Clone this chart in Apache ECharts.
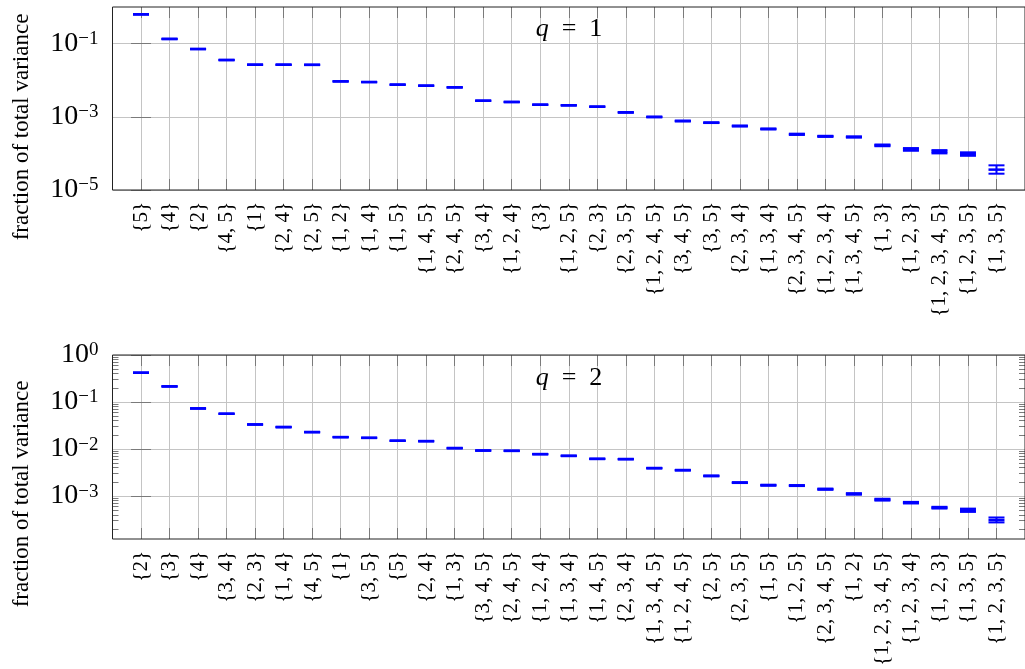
<!DOCTYPE html>
<html><head><meta charset="utf-8">
<script src="https://cdn.jsdelivr.net/npm/echarts@6/dist/echarts.min.js"></script>
<style>html,body{margin:0;padding:0;background:#fff}#c{width:1025px;height:669px}</style>
</head><body><div id="c"></div>
<script>
// ---------- q = 1 ----------
const catsQ1 = ['{5}','{4}','{2}','{4, 5}','{1}','{2, 4}','{2, 5}','{1, 2}','{1, 4}','{1, 5}','{1, 4, 5}','{2, 4, 5}','{3, 4}','{1, 2, 4}','{3}','{1, 2, 5}','{2, 3}','{2, 3, 5}','{1, 2, 4, 5}','{3, 4, 5}','{3, 5}','{2, 3, 4}','{1, 3, 4}','{2, 3, 4, 5}','{1, 2, 3, 4}','{1, 3, 4, 5}','{1, 3}','{1, 2, 3}','{1, 2, 3, 4, 5}','{1, 2, 3, 5}','{1, 3, 5}'];
const meanQ1 = [0.63,0.134,0.0711,0.0356,0.0265,0.0265,0.0263,0.0093,0.0089,0.00755,0.00708,0.00638,0.00275,0.00254,0.00214,0.00206,0.00189,0.00132,0.00099,7.67e-4,6.9e-4,5.6e-4,4.65e-4,3.33e-4,2.93e-4,2.81e-4,1.66e-4,1.29e-4,1.11e-4,9.6e-5,3.6e-5];
const loQ1 = [0.62,0.132,0.0702,0.0351,0.0261,0.0261,0.0259,0.0092,0.0088,0.00745,0.00698,0.00629,0.00271,0.00250,0.00211,0.00203,0.00186,0.00129,0.00097,7.5e-4,6.75e-4,5.45e-4,4.53e-4,3.20e-4,2.83e-4,2.71e-4,1.57e-4,1.18e-4,1.0e-4,8.6e-5,2.79e-5];
const hiQ1 = [0.64,0.136,0.0720,0.0361,0.0269,0.0269,0.0267,0.0094,0.0090,0.00765,0.00718,0.00647,0.00279,0.00258,0.00217,0.00209,0.00192,0.00135,0.00101,7.85e-4,7.05e-4,5.75e-4,4.77e-4,3.46e-4,3.03e-4,2.91e-4,1.75e-4,1.40e-4,1.23e-4,1.07e-4,4.72e-5];
const yTicksQ1 = [1e-5, 1e-3, 1e-1];

// ---------- q = 2 ----------
const catsQ2 = ['{2}','{3}','{4}','{3, 4}','{2, 3}','{1, 4}','{4, 5}','{1}','{3, 5}','{5}','{2, 4}','{1, 3}','{3, 4, 5}','{2, 4, 5}','{1, 2, 4}','{1, 3, 4}','{1, 4, 5}','{2, 3, 4}','{1, 3, 4, 5}','{1, 2, 4, 5}','{2, 5}','{2, 3, 5}','{1, 5}','{1, 2, 5}','{2, 3, 4, 5}','{1, 2}','{1, 2, 3, 4, 5}','{1, 2, 3, 4}','{1, 2, 3}','{1, 3, 5}','{1, 2, 3, 5}'];
const meanQ2 = [0.42,0.215,0.073,0.0563,0.0333,0.0293,0.0229,0.0179,0.0173,0.0150,0.0147,0.01045,0.00929,0.00916,0.00778,0.00716,0.00618,0.0061,0.00392,0.00355,0.00268,0.00193,0.0017,0.00167,0.0014,0.00111,8.38e-4,7.23e-4,5.66e-4,4.98e-4,3.09e-4];
const loQ2 = [0.415,0.212,0.072,0.0556,0.0329,0.0289,0.0226,0.0177,0.0171,0.0148,0.0145,0.0103,0.00917,0.00904,0.00768,0.00706,0.00610,0.00602,0.00386,0.00349,0.00263,0.00189,0.00166,0.00163,0.00136,0.00107,8.0e-4,6.95e-4,5.42e-4,4.6e-4,2.75e-4];
const hiQ2 = [0.425,0.218,0.074,0.0570,0.0337,0.0297,0.0232,0.0181,0.0175,0.0152,0.0149,0.0106,0.00941,0.00928,0.00788,0.00726,0.00626,0.00618,0.00398,0.00361,0.00273,0.00197,0.00174,0.00171,0.00144,0.00115,8.76e-4,7.51e-4,5.9e-4,5.4e-4,3.5e-4];
const yTicksQ2 = [1e-3, 1e-2, 1e-1, 1];
const yMinorQ2 = [2e-4,3e-4,4e-4,5e-4,6e-4,7e-4,8e-4,9e-4,2e-3,3e-3,4e-3,5e-3,6e-3,7e-3,8e-3,9e-3,2e-2,3e-2,4e-2,5e-2,6e-2,7e-2,8e-2,9e-2,0.2,0.3,0.4,0.5,0.6,0.7,0.8,0.9];

const SERIF = 'Liberation Serif';
const BLUE = '#0000ff';
const GRIDC = '#c4c4c4';
const TICKC = '#7a7a7a';

function yLabelFmt(v) {
  const e = Math.round(Math.log10(v));
  return '{b|10}{s|' + (e < 0 ? '\u2212' + (-e) : String(e)) + '}';
}
const yRich = {
  b: { fontFamily: SERIF, fontSize: 28, color: '#000' },
  s: { fontFamily: SERIF, fontSize: 19, color: '#000', verticalAlign: 'top' }
};

function xAxes(gridIndex, cats) {
  return [{
    gridIndex, type: 'value', min: -1, max: 31, interval: 1, position: 'bottom',
    axisLine: { show: false },
    axisTick: { inside: true, length: 11, lineStyle: { color: TICKC, width: 1 } },
    axisLabel: {
      rotate: 90, margin: 12, fontFamily: SERIF, fontSize: 21, color: '#000',
      formatter: v => (v >= 0 && v < cats.length) ? cats[v] : ''
    },
    splitLine: { show: true, lineStyle: { color: GRIDC, width: 1 } }
  }, {
    gridIndex, type: 'value', min: -1, max: 31, interval: 1, position: 'top',
    axisLine: { show: false },
    axisTick: { inside: true, length: 11, lineStyle: { color: TICKC, width: 1 } },
    axisLabel: { show: false }, splitLine: { show: false }
  }];
}

function yAxis(gridIndex, min, max, ticks, position, withLabels, len, split) {
  return {
    gridIndex, type: 'log', logBase: 10, min, max, position,
    axisLine: { show: false },
    axisTick: { inside: true, length: len, customValues: ticks, lineStyle: { color: TICKC, width: 1 } },
    axisLabel: withLabels ? { show: true, customValues: ticks, margin: 14, formatter: yLabelFmt, rich: yRich } : { show: false },
    splitLine: { show: split, lineStyle: { color: GRIDC, width: 1 } },
    minorTick: { show: false }, minorSplitLine: { show: false }
  };
}

function errRender(params, api) {
  const x = api.value(0);
  const c = api.coord([x, api.value(1)]);
  const lo = api.coord([x, api.value(2)]);
  const hi = api.coord([x, api.value(3)]);
  const hw = 8;
  const st = { stroke: BLUE, lineWidth: 2 };
  return { type: 'group', children: [
    { type: 'line', shape: { x1: c[0], y1: lo[1], x2: c[0], y2: hi[1] }, style: st },
    { type: 'line', shape: { x1: c[0] - hw, y1: lo[1], x2: c[0] + hw, y2: lo[1] }, style: st },
    { type: 'line', shape: { x1: c[0] - hw, y1: hi[1], x2: c[0] + hw, y2: hi[1] }, style: st },
    { type: 'line', shape: { x1: c[0] - hw, y1: c[1], x2: c[0] + hw, y2: c[1] }, style: { stroke: BLUE, lineWidth: 2.5 } }
  ]};
}

const Y2MIN = 1.22e-4;
const gridBase = { left: 112.5, right: -4, show: true, z: 10, backgroundColor: 'transparent', borderColor: '#222', borderWidth: 1 };
const qRich = { i: { fontStyle: 'italic', fontFamily: SERIF, fontSize: 26 } };

const option = {
  animation: false,
  backgroundColor: '#fff',
  grid: [
    Object.assign({ top: 7, height: 183 }, gridBase),
    Object.assign({ top: 355, height: 184 }, gridBase)
  ],
  xAxis: [].concat(xAxes(0, catsQ1), xAxes(1, catsQ2)),
  yAxis: [
    yAxis(0, 1e-5, 1, yTicksQ1, 'left', true, 10, true),
    yAxis(0, 1e-5, 1, yTicksQ1, 'right', false, 10, false),
    yAxis(1, Y2MIN, 1, yTicksQ2, 'left', true, 10, true),
    yAxis(1, Y2MIN, 1, yTicksQ2, 'right', false, 10, false),
    yAxis(1, Y2MIN, 1, yMinorQ2, 'left', false, 6, false),
    yAxis(1, Y2MIN, 1, yMinorQ2, 'right', false, 6, false)
  ],
  graphic: [
    { type: 'text', x: 22, y: 127, rotation: Math.PI / 2, style: { text: 'fraction of total variance', fontFamily: SERIF, fontSize: 23, fill: '#000', align: 'center', verticalAlign: 'middle' } },
    { type: 'text', x: 22, y: 494, rotation: Math.PI / 2, style: { text: 'fraction of total variance', fontFamily: SERIF, fontSize: 23, fill: '#000', align: 'center', verticalAlign: 'middle' } },
    { type: 'text', x: 569, y: 29, z: 20, style: { text: '{i|q}\u2002=\u20021', rich: qRich, fontFamily: SERIF, fontSize: 26, fill: '#000', align: 'center', verticalAlign: 'middle' } },
    { type: 'text', x: 569, y: 378, z: 20, style: { text: '{i|q}\u2002=\u20022', rich: qRich, fontFamily: SERIF, fontSize: 26, fill: '#000', align: 'center', verticalAlign: 'middle' } }
  ],
  series: [
    { type: 'custom', xAxisIndex: 0, yAxisIndex: 0, renderItem: errRender, encode: { x: 0, y: [1, 2, 3] }, clip: false,
      data: catsQ1.map((_, i) => [i, meanQ1[i], loQ1[i], hiQ1[i]]) },
    { type: 'custom', xAxisIndex: 2, yAxisIndex: 2, renderItem: errRender, encode: { x: 0, y: [1, 2, 3] }, clip: false,
      data: catsQ2.map((_, i) => [i, meanQ2[i], loQ2[i], hiQ2[i]]) }
  ]
};
const chart = echarts.init(document.getElementById('c'), null, { renderer: 'canvas' });
chart.setOption(option);
</script>
</body></html>
